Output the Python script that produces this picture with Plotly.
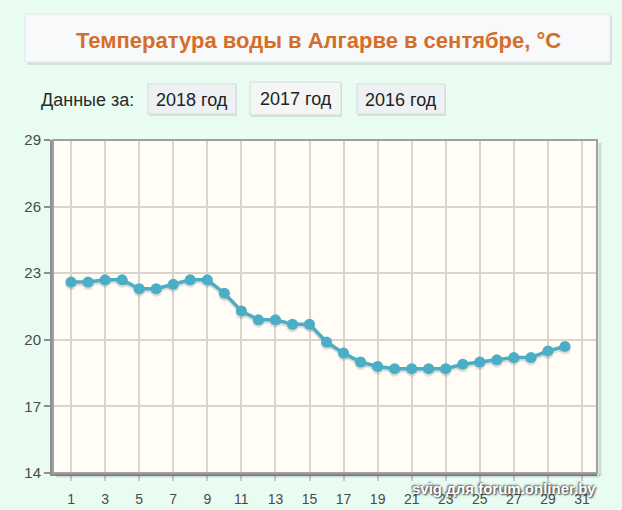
import plotly.graph_objects as go

days = list(range(1, 31))
temps = [22.6, 22.6, 22.7, 22.7, 22.3, 22.3, 22.5, 22.7, 22.7, 22.1,
         21.3, 20.9, 20.9, 20.7, 20.7, 19.9, 19.4, 19.0, 18.8, 18.7,
         18.7, 18.7, 18.7, 18.9, 19.0, 19.1, 19.2, 19.2, 19.5, 19.7]
x_ticks = list(range(1, 32, 2))
y_ticks = [14, 17, 20, 23, 26, 29]
title_text = "Температура воды в Алгарве в сентябре, °С"
data_label = "Данные за:"
year_buttons = ["2018 год", "2017 год", "2016 год"]
watermark = "svig для forum.onliner.by"

W, H = 622, 510
L, R, T, B = 53, 597, 140, 473

def px(x):
    return (x - L) / (R - L)

def py(y):
    return (B - y) / (B - T)

fig = go.Figure()

# soft shadow under line
fig.add_trace(go.Scatter(
    x=days, y=[t - 0.09 for t in temps], mode="lines+markers",
    line=dict(color="rgba(60,60,60,0.16)", width=4),
    marker=dict(size=12, color="rgba(60,60,60,0.16)"),
    hoverinfo="skip", showlegend=False))
fig.add_trace(go.Scatter(
    x=days, y=temps, mode="lines+markers",
    line=dict(color="#4AAEC6", width=3.5),
    marker=dict(size=11, color="#4AAEC6"),
    showlegend=False))

shapes = []
# title box shadow + box
shapes.append(dict(type="rect", xref="paper", yref="paper",
                   x0=px(27), x1=px(612), y0=py(65), y1=py(16),
                   line=dict(width=0), fillcolor="rgba(0,0,0,0.10)", layer="below"))
shapes.append(dict(type="rect", xref="paper", yref="paper",
                   x0=px(25), x1=px(610), y0=py(62), y1=py(14),
                   line=dict(color="#E2E6E6", width=1), fillcolor="#F8F9FA", layer="below"))
# buttons
btn = [(148, 236, 84, 114, "#EEF1F3"), (250, 341, 82, 115, "#F4F5F5"), (357, 445, 84, 114, "#EEF1F3")]
for x0, x1, y0, y1, c in btn:
    shapes.append(dict(type="rect", xref="paper", yref="paper",
                       x0=px(x0 + 1), x1=px(x1 + 1), y0=py(y1 + 2), y1=py(y0 + 1),
                       line=dict(width=0), fillcolor="rgba(0,0,0,0.10)", layer="below"))
    shapes.append(dict(type="rect", xref="paper", yref="paper",
                       x0=px(x0), x1=px(x1), y0=py(y1), y1=py(y0),
                       line=dict(color="#D6DADC", width=1), fillcolor=c, layer="below"))
# frame top/right
shapes.append(dict(type="rect", xref="paper", yref="paper", x0=0, x1=1, y0=0, y1=1,
                   line=dict(color="#A0A0A0", width=2), layer="above"))
# shadow on right / bottom edge
shapes.append(dict(type="line", xref="paper", yref="paper", x0=px(R + 3), x1=px(R + 3),
                   y0=py(B + 3), y1=py(T + 3), line=dict(color="rgba(0,0,0,0.12)", width=3)))
shapes.append(dict(type="line", xref="paper", yref="paper", x0=px(L + 3), x1=px(R + 3),
                   y0=py(B + 3), y1=py(B + 3), line=dict(color="rgba(0,0,0,0.12)", width=3)))

FONT = "Liberation Sans, Arial"
annotations = [
    dict(text="<b>" + title_text + "</b>", xref="paper", yref="paper",
         x=px(318), y=py(40), xanchor="center", yanchor="middle", showarrow=False,
         font=dict(family=FONT, size=22, color="#D46E2A")),
    dict(text=data_label, xref="paper", yref="paper", x=px(39), y=py(100),
         xanchor="left", yanchor="middle", showarrow=False,
         font=dict(family=FONT, size=18, color="#2A2A2A")),
]
for (x0, x1, y0, y1, c), t in zip(btn, year_buttons):
    annotations.append(dict(text=t, xref="paper", yref="paper",
                            x=px((x0 + x1) / 2), y=py((y0 + y1) / 2 + 1),
                            xanchor="center", yanchor="middle", showarrow=False,
                            font=dict(family=FONT, size=18, color="#222")))
annotations.append(dict(text="<b>" + watermark + "</b>", xref="paper", yref="paper",
                        x=px(598), y=py(488), xanchor="right", yanchor="middle", showarrow=False,
                        font=dict(family=FONT, size=15, color="#FFFFFF",
                                  shadow="1px 1px 2px #333, -1px -1px 2px #555")))

fig.update_layout(
    width=W, height=H,
    margin=dict(l=L, r=W - R, t=T, b=H - B, pad=0, autoexpand=False),
    paper_bgcolor="#E8FCF2", plot_bgcolor="#FFFDF6",
    shapes=shapes, annotations=annotations,
    xaxis=dict(range=[-0.06, 31.88], tickvals=x_ticks, showgrid=True, automargin=False,
               gridcolor="#D9D5CD", gridwidth=1.5, zeroline=False,
               showline=True, linecolor="#8E8E8E", linewidth=3,
               ticks="outside", ticklen=5, tickcolor="#C8C8C8", tickwidth=1.5,
               ticklabelstandoff=6,
               tickfont=dict(family=FONT, size=14, color="#4A4A4A")),
    yaxis=dict(range=[14, 29], tickvals=y_ticks, showgrid=True, automargin=False,
               gridcolor="#D9D5CD", gridwidth=1.5, zeroline=False,
               showline=True, linecolor="#8E8E8E", linewidth=3,
               ticks="outside", ticklen=6, tickcolor="#8E8E8E", tickwidth=2,
               tickfont=dict(family=FONT, size=15, color="#4A4A4A")),
)

fig.write_html("out.html", config={"displayModeBar": False},
               post_script="document.body.style.margin='0';document.body.style.background='#E8FCF2';")
